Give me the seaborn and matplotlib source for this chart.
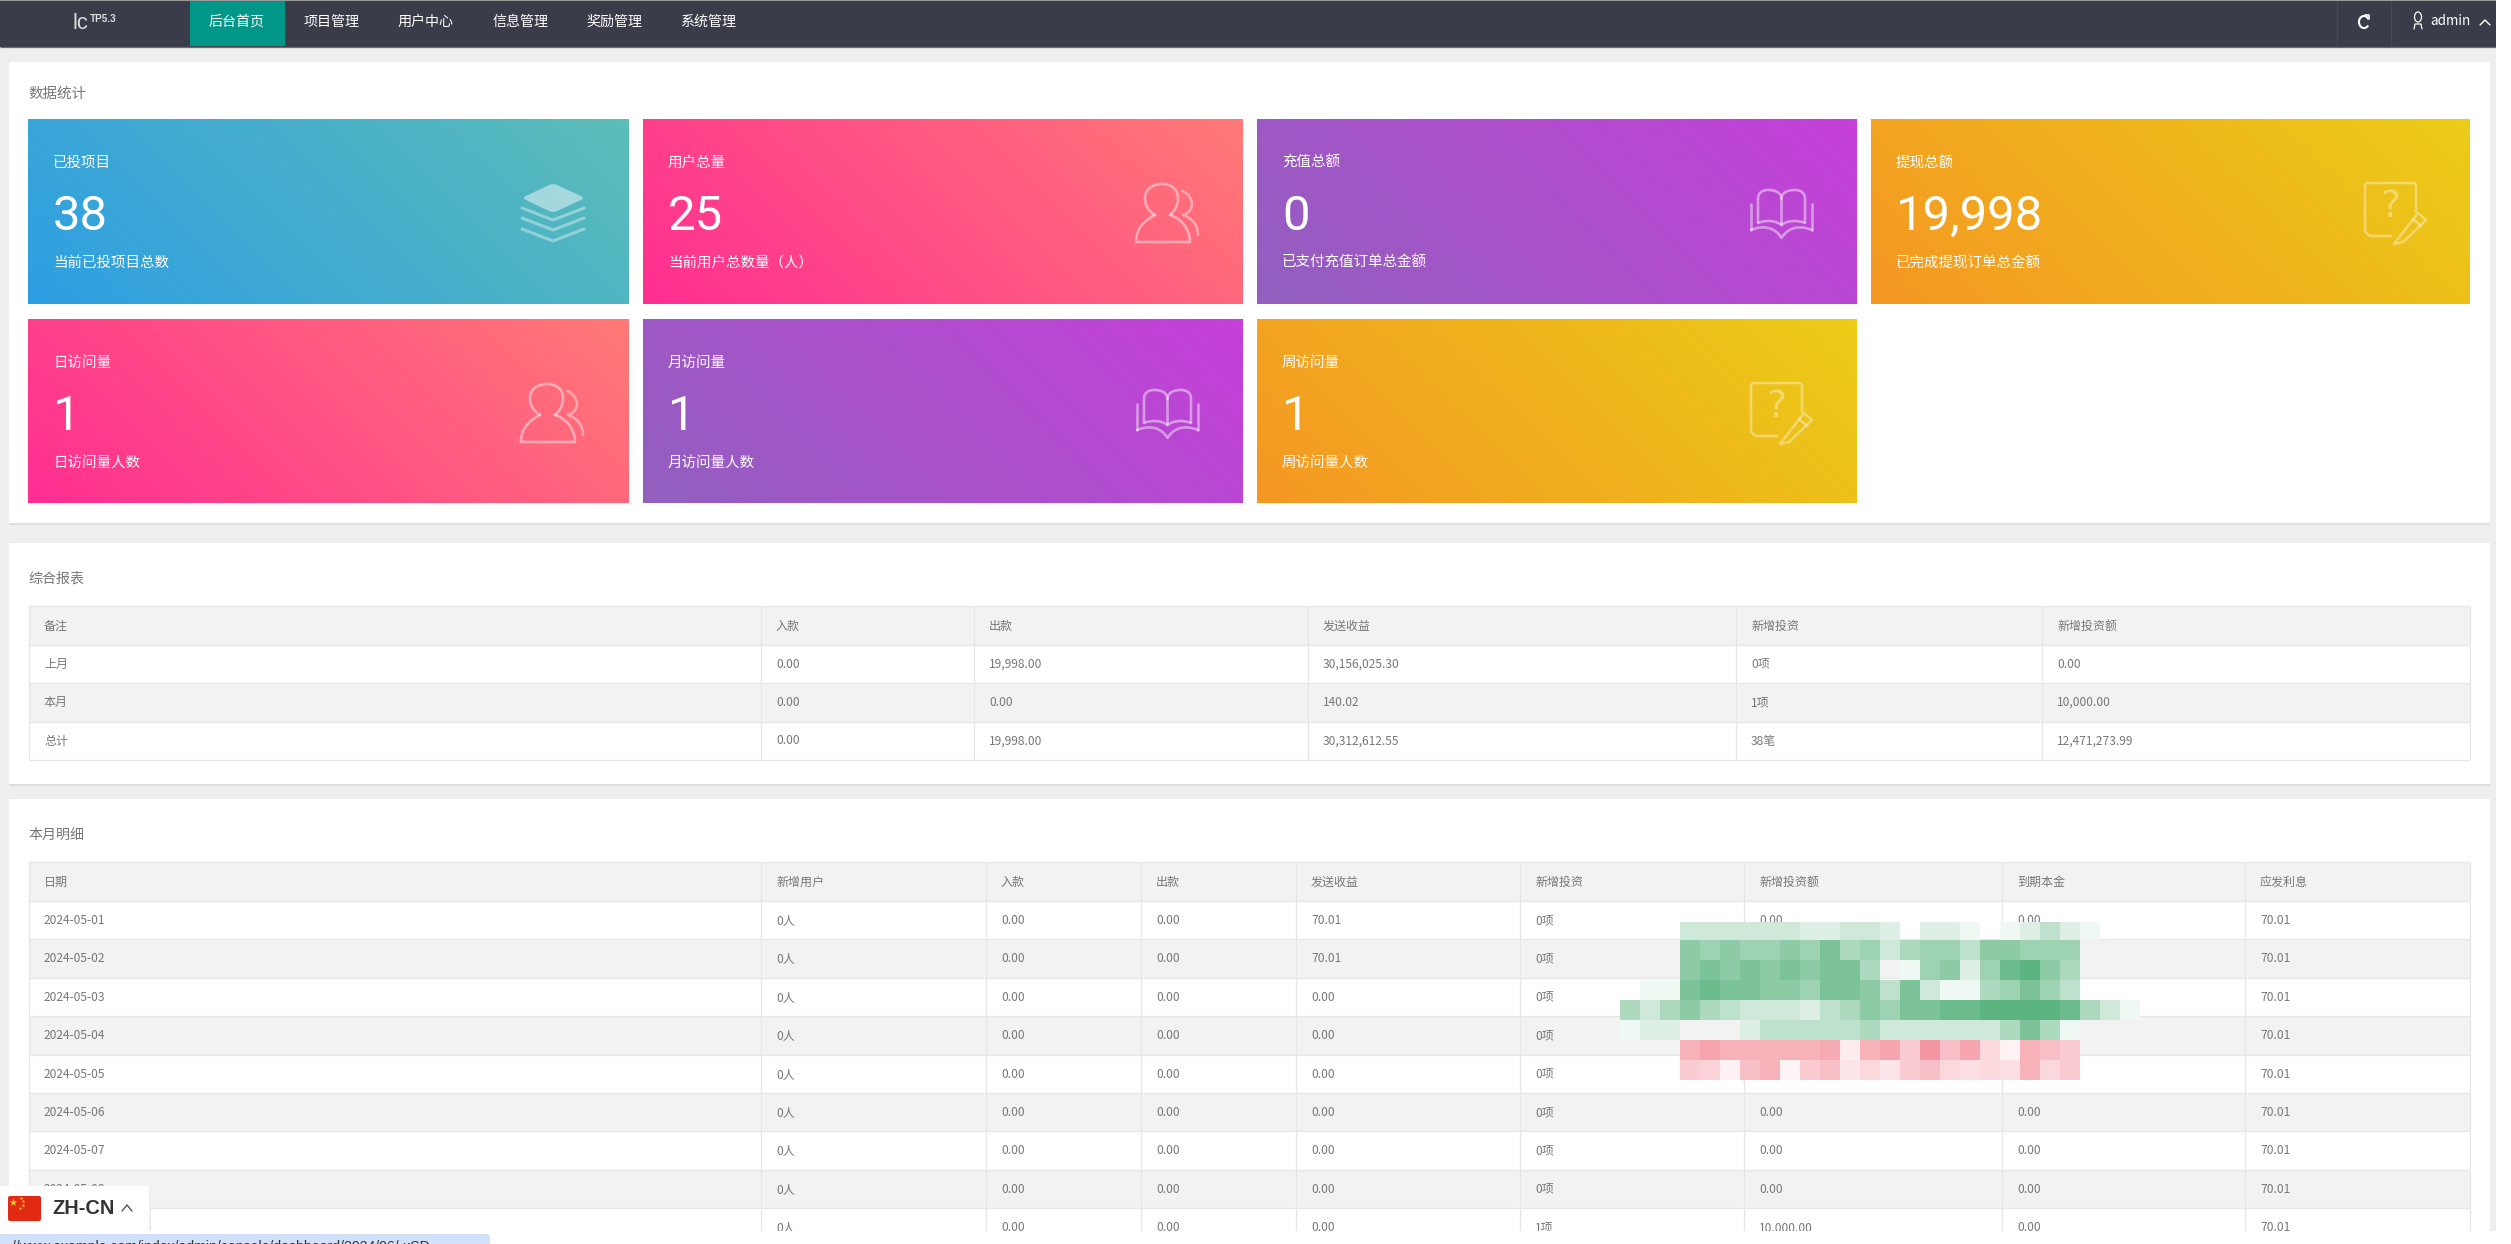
import numpy as np
import matplotlib
matplotlib.use('Agg')
import matplotlib.pyplot as plt
import seaborn as sns
from matplotlib.patches import Rectangle, Ellipse, PathPatch, FancyBboxPatch, Arc
from matplotlib.path import Path

W, H = 2511, 1244

nav_items = ['后台首页', '项目管理', '用户中心', '信息管理', '奖励管理', '系统管理']

card_titles = ['已投项目', '用户总量', '充值总额', '提现总额', '日访问量', '月访问量', '周访问量']
card_values = ['38', '25', '0', '19,998', '1', '1', '1']
card_subs = ['当前已投项目总数', '当前用户总数量（人）', '已支付充值订单总金额', '已完成提现订单总金额',
             '日访问量人数', '月访问量人数', '周访问量人数']
card_kinds = ['blue', 'pink', 'purple', 'orange', 'pink', 'purple', 'orange']
card_icons = ['stack', 'user', 'book', 'note', 'user', 'book', 'note']

report_head = ['备注', '入款', '出款', '发送收益', '新增投资', '新增投资额']
report_note = ['上月', '本月', '总计']
report_in = ['0.00', '0.00', '0.00']
report_out = ['19,998.00', '0.00', '19,998.00']
report_profit = ['30,156,025.30', '140.02', '30,312,612.55']
report_count = ['0项', '1项', '38笔']
report_amount = ['0.00', '10,000.00', '12,471,273.99']

detail_head = ['日期', '新增用户', '入款', '出款', '发送收益', '新增投资', '新增投资额', '到期本金', '应发利息']
detail_date = ['2024-05-01', '2024-05-02', '2024-05-03', '2024-05-04', '2024-05-05',
               '2024-05-06', '2024-05-07', '2024-05-08', '2024-05-09']
detail_users = ['0人'] * 9
detail_in = ['0.00'] * 9
detail_out = ['0.00'] * 9
detail_profit = ['70.01', '70.01', '0.00', '0.00', '0.00', '0.00', '0.00', '0.00', '0.00']
detail_count = ['0项', '0项', '0项', '0项', '0项', '0项', '0项', '0项', '1项']
detail_amount = ['0.00'] * 8 + ['10,000.00']
detail_due = ['0.00'] * 9
detail_interest = ['70.01'] * 9

# the smudged blur over the table, + green / - pink, 0 = nothing painted
blur = np.array([
    [0, 0, 0, 3, 3, 3, 3, 3, 3, 2, 2, 3, 3, 2, 0, 2, 2, 1, 0, 1, 2, 4, 2, 1, 0, 0],
    [0, 0, 0, 7, 6, 7, 6, 6, 7, 6, 8, 5, 6, 3, 5, 6, 6, 4, 7, 7, 6, 6, 6, 0, 0, 0],
    [0, 0, 0, 7, 8, 7, 8, 7, 8, 7, 8, 8, 5, 0, 1, 6, 7, 2, 6, 9, 10, 7, 5, 0, 0, 0],
    [0, 1, 1, 8, 9, 8, 8, 7, 7, 6, 8, 8, 7, 4, 8, 3, 1, 1, 5, 6, 8, 6, 4, 0, 0, 0],
    [5, 3, 5, 7, 5, 4, 3, 3, 3, 2, 4, 5, 7, 6, 8, 8, 9, 9, 10, 10, 10, 10, 9, 5, 3, 1],
    [1, 2, 2, 0, 0, 0, 2, 4, 4, 4, 4, 4, 5, 3, 3, 3, 3, 3, 3, 5, 8, 5, 1, 0, 0, 0],
    [0, 0, 0, -6, -7, -6, -6, -6, -6, -6, -6.5, -1.5, -6, -7, -4, -8, -5, -7, -3, -1, -6, -5, -4, 0, 0, 0],
    [0, 0, 0, -4, -3.5, -1, -5, -6, -0.8, -4, -5, -2, -3, -2, -4, -5, -3, -2.5, -3, -2.5, -6, -3, -4, 0, 0, 0],
])

sns.set_theme(style='white')
plt.rcParams['font.family'] = ['Noto Sans CJK SC', 'DejaVu Sans']

GRADS = {'blue': ('#2e9ee3', '#5cbdb8'), 'pink': ('#ff2e92', '#ff7a76'),
         'purple': ('#9260bf', '#c63fd9'), 'orange': ('#f59724', '#ebcd17')}
TEXT = '#777777'
M, C, Q, L = Path.MOVETO, Path.CURVE4, Path.CURVE3, Path.LINETO


def px(size):
    return size * 0.72


fig = plt.figure(figsize=(W / 100, H / 100), dpi=100, facecolor='white')
ax = fig.add_axes([0, 0, 1, 1])
ax.set_axis_off()


def box(x0, y0, x1, y1, color, z=1, alpha=None):
    ax.add_patch(Rectangle((x0, y0), x1 - x0, y1 - y0, fc=color, ec='none', zorder=z, alpha=alpha))


def vline(x, y0, y1, color='#e6e6e6', z=3):
    ax.plot([x, x], [y0, y1], color=color, lw=0.9, zorder=z, solid_capstyle='butt')


def hline(y, x0, x1, color='#e6e6e6', z=3):
    ax.plot([x0, x1], [y, y], color=color, lw=0.9, zorder=z, solid_capstyle='butt')


def label(x, y, s, size=12, color=TEXT, z=5, **kw):
    kw.setdefault('ha', 'left')
    kw.setdefault('va', 'center')
    return ax.text(x, y, s, fontsize=px(size), color=color, zorder=z, **kw)


def line(xs, ys, alpha=0.45, lw=2.6):
    ax.plot(xs, ys, color='white', alpha=alpha, lw=px(lw), zorder=4,
            solid_capstyle='round', solid_joinstyle='round')


def curve(x, y, pts, codes, alpha=0.45, lw=2.6):
    verts = [(x + a, y + b) for a, b in pts]
    ax.add_patch(PathPatch(Path(verts, codes), fc='none', ec='white', alpha=alpha, lw=px(lw), zorder=4,
                           capstyle='round', joinstyle='round'))


def icon_stack(x, y):
    pts = [(21, 26), (44, 15), (48, 13), (52, 15), (76, 26), (80, 28), (76, 30), (52, 41), (48, 43), (44, 41),
           (21, 30), (17, 28), (21, 26)]
    verts = [(x + a, y + b) for a, b in pts]
    ax.add_patch(PathPatch(Path(verts, [M, L, Q, Q, L, Q, Q, L, Q, Q, L, Q, Q]),
                           fc='white', ec='none', alpha=0.48, zorder=4))
    for tip in [50, 60, 71]:
        line([x + 17, x + 48, x + 79], [y + tip - 12, y + tip, y + tip - 12], alpha=0.38, lw=3)


def icon_user(x, y):
    curve(x, y, [(35, 45), (28, 41), (25, 35), (25, 28), (25, 19), (33, 14), (42, 14),
                 (51, 14), (58, 19), (58, 28), (58, 35), (55, 41), (50, 45)], [M] + [C] * 12)
    curve(x, y, [(35, 45), (25, 50), (16, 58), (16, 72), (70, 72), (70, 58), (60, 48), (50, 45)],
          [M, C, C, C, L, C, C, C])
    curve(x, y, [(62, 21), (68, 23), (72, 29), (72, 34), (72, 39), (68, 44), (63, 45),
                 (72, 48), (78, 55), (78, 65)], [M] + [C] * 9, alpha=0.4)


def icon_book(x, y):
    line([x + 21, x + 21], [y + 29, y + 55])
    line([x + 82, x + 82], [y + 29, y + 55])
    curve(x, y, [(21, 55), (33, 50), (45, 52), (51.5, 63), (58, 52), (70, 50), (82, 55)], [M] + [C] * 6)
    curve(x, y, [(28, 47), (28, 24), (28, 18), (32, 15), (38, 15), (46, 15), (51.5, 18), (51.5, 24),
                 (51.5, 50)], [M, L, C, C, C, C, C, C, L])
    curve(x, y, [(75, 47), (75, 24), (75, 18), (71, 15), (65, 15), (57, 15), (51.5, 18), (51.5, 24)],
          [M, L, C, C, C, C, C, C])
    curve(x, y, [(28, 48), (35, 45), (45, 45), (51.5, 50), (58, 45), (68, 45), (75, 48)], [M] + [C] * 6)


def icon_note(x, y):
    line([x + 51, x + 51, x + 49, x + 2, x, x, x + 5, x + 26],
         [y + 30, y + 3, y + 1, y + 1, y + 3, y + 50, y + 54, y + 54], alpha=0.35)
    line([x + 29, x + 53, x + 61, x + 38, x + 29, x + 29],
         [y + 62, y + 31, y + 38, y + 60, y + 62, y + 62], alpha=0.35)
    line([x + 48, x + 56], [y + 37, y + 44], alpha=0.35)
    label(x + 25, y + 25, '?', size=38, color='white', ha='center', alpha=0.35, family='DejaVu Sans')


ICONS = {'stack': (icon_stack, 477, 51), 'user': (icon_user, 477, 51),
         'book': (icon_book, 473, 56), 'note': (icon_note, 494, 63)}

# page
box(0, 0, 2496, H, '#eeeeee', z=0)
box(0, 0, 2496, 47, '#3a3d49', z=1)
box(0, 0, 2496, 1, '#9a9a9a', z=2)
hline(46.5, 0, 2496, color='#6a6d78')
box(190, 1, 285, 46, '#009688', z=2)
for i, name in enumerate(nav_items):
    label(237 + i * 94.4, 22, name, size=14, color='white', ha='center')
label(72, 29, 'lc', size=22, color='#dddddd', family='Liberation Sans', va='baseline')
label(90, 18.5, 'TP5.3', size=10, color='#dddddd', family='Liberation Sans', fontweight='bold')
vline(2337, 1, 46, color='#474a55')
vline(2391, 1, 46, color='#474a55')
ax.add_patch(Arc((2364, 22), 10, 12, theta1=40, theta2=330, ec='white', lw=1.5, zorder=5))
ax.plot([2365, 2369, 2369], [15, 15, 19], color='white', lw=1.2, zorder=5)
ax.add_patch(Ellipse((2418, 17), 7, 10, fc='none', ec='white', lw=0.9, zorder=5))
ax.plot([2414, 2415, 2421, 2422], [29, 24, 24, 29], color='white', lw=0.9, zorder=5)
label(2430, 21, 'admin', size=13.5, color='white')
ax.plot([2480, 2485, 2490], [25, 20, 25], color='white', lw=1, zorder=5)

# panels
for top, bottom in [(62, 523), (543, 784), (799, 1244)]:
    box(9, top, 2490, bottom, 'white', z=1)
    if bottom < H:
        box(9, bottom, 2490, bottom + 2, '#dedede', z=1)

label(28, 94, '数据统计', size=14.5)
label(28, 579, '综合报表', size=14)
label(28, 835, '本月明细', size=14)

# cards
card_x = [(28, 629), (643, 1243), (1257, 1857), (1871, 2470)]
card_y = [(119, 304), (319, 503)]
for i, title in enumerate(card_titles):
    x0, x1 = card_x[i % 4]
    y0, y1 = card_y[i // 4]
    cmap = sns.blend_palette(GRADS[card_kinds[i]], as_cmap=True)
    uu, vv = np.meshgrid(np.linspace(0, 1, 300), np.linspace(1, 0, 100))
    # css 45deg gradient, row 0 is the top of the card
    grad = (uu * (x1 - x0) + vv * (y1 - y0)) / (x1 - x0 + y1 - y0)
    ax.imshow(grad, extent=(x0, x1, y1, y0), cmap=cmap, vmin=0, vmax=1, aspect='auto', zorder=2)
    label(x0 + 25, y0 + 44, title, size=14.5, color='white')
    label(x0 + 25, y0 + 93, card_values[i], size=49, color='white', family='Roboto', va='center_baseline')
    label(x0 + 25, y0 + 144, card_subs[i], size=14.5, color='white')
    fn, dx, dy = ICONS[card_icons[i]]
    fn(x0 + dx, y0 + dy)

# report table
rep_cols = [29, 761, 974, 1308, 1736, 2042, 2470]
rep_rows = [report_note, report_in, report_out, report_profit, report_count, report_amount]
rep_edges = [645, 683.4, 721.8, 760]
box(29, 606, 2470, 645, '#f2f2f2', z=2)
box(29, 683.4, 2470, 721.8, '#f2f2f2', z=2)
for y in [606, 645, 683.4, 721.8, 760]:
    hline(y, 29, 2470)
for x in rep_cols:
    vline(x, 606, 760)
for c, name in enumerate(report_head):
    label(rep_cols[c] + 15, 626, name)
    for r, val in enumerate(rep_rows[c]):
        label(rep_cols[c] + 15, rep_edges[r] + 19.2, val)

# detail table
det_cols = [29, 761, 986, 1141, 1296, 1520, 1744, 2002, 2245, 2470]
det_rows = [detail_date, detail_users, detail_in, detail_out, detail_profit, detail_count,
            detail_amount, detail_due, detail_interest]
box(29, 862, 2470, 901, '#f2f2f2', z=2)
for r in range(len(detail_date)):
    y = 901 + r * 38.4
    if r % 2 == 1:
        box(29, y, 2470, y + 38.4, '#f2f2f2', z=2)
    hline(y, 29, 2470)
hline(862, 29, 2470)
for x in det_cols:
    vline(x, 862, 1240)
for c, name in enumerate(detail_head):
    label(det_cols[c] + 15, 882, name)
    for r, val in enumerate(det_rows[c]):
        label(det_cols[c] + 15, 901 + r * 38.4 + 19.5, val)

# bottom cut off, language badge, status bar
box(0, 1231, 2496, H, 'white', z=6)
box(0, 1186, 149, 1231, 'white', z=7)
box(149, 1190, 151, 1231, '#ececec', z=6)
ax.add_patch(FancyBboxPatch((8, 1196), 33, 25, boxstyle='round,pad=0,rounding_size=2',
                            fc='#e02a12', ec='none', zorder=8))
ax.scatter([13], [1202], marker='*', s=32, c='#f8d820', linewidths=0, zorder=9)
ax.scatter([21, 23, 23, 20], [1198, 1201, 1205, 1208], marker='*', s=7, c='#f8d820', linewidths=0, zorder=9)
label(52, 1208, 'ZH-CN', size=20, color='#333333', z=9, fontweight='bold', family='Liberation Sans')
ax.plot([122, 127, 132], [1211, 1205, 1211], color='#555555', lw=1, zorder=9)
ax.add_patch(FancyBboxPatch((-6, 1234), 496, 20, boxstyle='round,pad=0,rounding_size=3',
                            fc='#d0e1f9', ec='none', zorder=8))
label(12, 1247, '//www.example.com/index/admin/console/dashboard/2024/06/-xSD', size=14, color='#333333', z=9,
      family='Liberation Sans', clip_on=True)
box(2496, 0, W, H, 'white', z=10)

ax.set_xlim(0, W)
ax.set_ylim(H, 0)

# blur patch goes on its own axes so each cell stays 20px
blur_ax = fig.add_axes([1620 / W, 1 - 1080 / H, 520 / W, 158 / H])
blur_cmap = sns.blend_palette(['#f27e8c', '#ffffff', '#5cb480'], as_cmap=True)
sns.heatmap(blur, ax=blur_ax, cmap=blur_cmap, vmin=-10, vmax=10, cbar=False, mask=blur == 0,
            xticklabels=False, yticklabels=False, linewidths=0)
blur_ax.set_ylim(8, 0.1)
blur_ax.patch.set_alpha(0)
blur_ax.set_axis_off()

fig.savefig('out.png', dpi=100)
